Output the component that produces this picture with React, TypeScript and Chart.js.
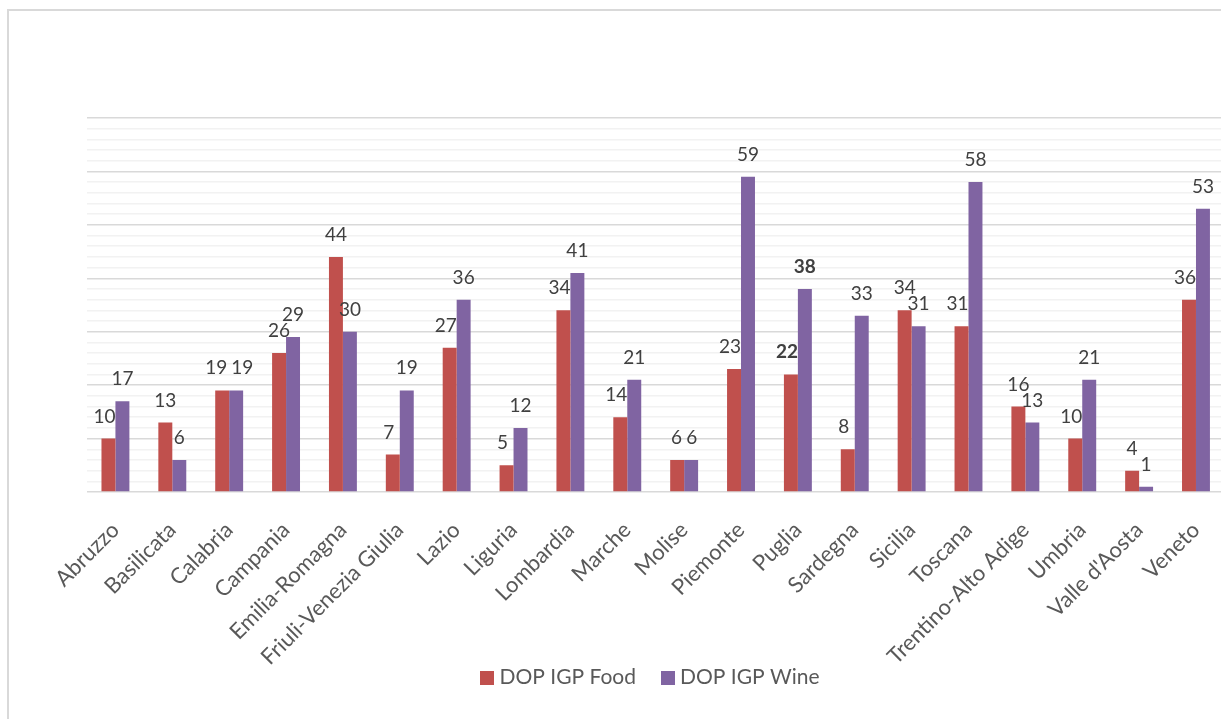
import React, { useEffect, useRef } from "react";
import { Chart, registerables } from "chart.js";

Chart.register(...registerables);

const categories = [
  "Abruzzo",
  "Basilicata",
  "Calabria",
  "Campania",
  "Emilia-Romagna",
  "Friuli-Venezia Giulia",
  "Lazio",
  "Liguria",
  "Lombardia",
  "Marche",
  "Molise",
  "Piemonte",
  "Puglia",
  "Sardegna",
  "Sicilia",
  "Toscana",
  "Trentino-Alto Adige",
  "Umbria",
  "Valle d'Aosta",
  "Veneto",
];

const foodValues = [10, 13, 19, 26, 44, 7, 27, 5, 34, 14, 6, 23, 22, 8, 34, 31, 16, 10, 4, 36];
const wineValues = [17, 6, 19, 29, 30, 19, 36, 12, 41, 21, 6, 59, 38, 33, 31, 58, 13, 21, 1, 53];

const seriesNames = ["DOP IGP Food", "DOP IGP Wine"];
const seriesColors = ["#C0504D", "#8064A2"];
const boldCategories = ["Puglia"];

const yMin = 0;
const yMax = 70;
const yMinorStep = 2;
const yMajorStep = 10;

const FONT = "Lato, 'Open Sans', sans-serif";
const TEXT_COLOR = "#595959";
const LABEL_COLOR = "#404040";

const valueLabelPlugin = {
  id: "valueLabels",
  afterDatasetsDraw(chart: any) {
    const ctx = chart.ctx;
    ctx.save();
    ctx.fillStyle = LABEL_COLOR;
    ctx.textAlign = "center";
    ctx.textBaseline = "alphabetic";
    const n = categories.length;
    const metas = chart.data.datasets.map((_: any, di: number) => chart.getDatasetMeta(di));
    for (let i = 0; i < n; i++) {
      const bold = boldCategories.includes(categories[i]);
      ctx.font = `${bold ? "bold " : ""}19px ${FONT}`;
      const items = metas.map((meta: any, di: number) => {
        const bar = meta.data[i];
        const text = String(chart.data.datasets[di].data[i]);
        return { text, x: bar.x, y: bar.y - 16, top: bar.y, w: ctx.measureText(text).width };
      });
      if (items.length === 2) {
        const a = items[0];
        const b = items[1];
        // nudge the first label left when the neighbouring bar rises into it
        if (b.top < a.y - 2) a.x -= 4;
        const need = (a.w + b.w) / 2 + 4;
        const dist = b.x - a.x;
        if (Math.abs(a.y - b.y) < 15 && dist < need) {
          const shift = (need - dist) / 2;
          a.x -= shift;
          b.x += shift;
        }
      }
      items.forEach((it: any) => ctx.fillText(it.text, it.x, it.y));
    }
    ctx.restore();
  },
};

const legendPlugin = {
  id: "customLegend",
  afterDraw(chart: any) {
    const ctx = chart.ctx;
    const datasets = chart.data.datasets;
    const box = 14;
    const textGap = 5;
    const itemGap = 25;
    const centerX = 650;
    const centerY = 677.5;
    ctx.save();
    ctx.font = `21px ${FONT}`;
    ctx.textBaseline = "middle";
    ctx.textAlign = "left";
    const widths = datasets.map((ds: any) => ctx.measureText(ds.label).width);
    const total =
      widths.reduce((s: number, w: number) => s + box + textGap + w, 0) + itemGap * (datasets.length - 1);
    let x = centerX - total / 2;
    datasets.forEach((ds: any, i: number) => {
      ctx.fillStyle = ds.backgroundColor;
      ctx.fillRect(Math.round(x), Math.round(centerY - box / 2), box, box);
      ctx.fillStyle = TEXT_COLOR;
      ctx.fillText(ds.label, x + box + textGap, centerY);
      x += box + textGap + widths[i] + itemGap;
    });
    ctx.restore();
  },
};

export default function App() {
  const canvasRef = useRef<HTMLCanvasElement | null>(null);

  useEffect(() => {
    if (!canvasRef.current) return;
    const chart = new Chart(canvasRef.current, {
      type: "bar",
      data: {
        labels: categories,
        datasets: [
          {
            label: seriesNames[0],
            data: foodValues,
            backgroundColor: seriesColors[0],
            categoryPercentage: 0.491,
            barPercentage: 1,
          },
          {
            label: seriesNames[1],
            data: wineValues,
            backgroundColor: seriesColors[1],
            categoryPercentage: 0.491,
            barPercentage: 1,
          },
        ],
      },
      options: {
        responsive: false,
        animation: false,
        devicePixelRatio: 1,
        layout: { padding: { left: 87, right: 14, top: 118, bottom: 28 } },
        plugins: {
          tooltip: { enabled: false },
          legend: { display: false },
        },
        scales: {
          x: {
            grid: { display: false, drawTicks: false },
            border: { display: false },
            ticks: {
              autoSkip: false,
              minRotation: 45,
              maxRotation: 45,
              padding: 25,
              font: { family: FONT, size: 22 },
              color: TEXT_COLOR,
            },
            afterFit: (s: any) => {
              s.height = 210;
            },
          },
          y: {
            min: yMin,
            max: yMax,
            ticks: { display: false, stepSize: yMinorStep },
            grid: {
              drawTicks: false,
              color: (c: any) => (c.tick && c.tick.value % yMajorStep === 0 ? "#d9d9d9" : "#f2f2f2"),
              lineWidth: 1.5,
            },
            border: { display: false },
          },
        },
      },
      plugins: [valueLabelPlugin, legendPlugin],
    });
    return () => chart.destroy();
  }, []);

  return (
    <div style={{ position: "relative", width: 1221, height: 719, overflow: "hidden", background: "#fff" }}>
      <style>{"body{margin:0;overflow:hidden;}"}</style>
      <div
        style={{
          position: "absolute",
          left: 7,
          top: 9,
          width: 1300,
          height: 800,
          borderLeft: "2px solid #d9d9d9",
          borderTop: "2px solid #d9d9d9",
          boxSizing: "border-box",
        }}
      />
      <canvas
        ref={canvasRef}
        width={1240}
        height={730}
        style={{ position: "absolute", left: 0, top: 0, width: 1240, height: 730 }}
      />
    </div>
  );
}
